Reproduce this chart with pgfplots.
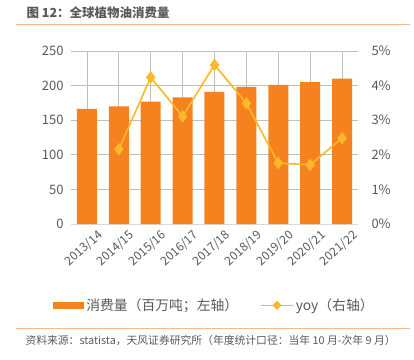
\documentclass[border=0pt]{standalone}
\usepackage{fontspec}
\setmainfont{Noto Sans CJK SC}
\usepackage{pgfplots}
\pgfplotsset{compat=1.18}
\definecolor{barc}{HTML}{F5821F}
\definecolor{linec}{HTML}{FBB829}
\definecolor{txt}{HTML}{595959}
\definecolor{grid}{HTML}{D9D9D9}
\definecolor{rule}{HTML}{F8B98A}
\begin{document}
\begin{tikzpicture}
\path[use as bounding box] (0pt,0pt) rectangle (414pt,359pt);
\node[anchor=west,text=txt,font=\fontsize{12.5}{13}\selectfont\bfseries] at (23pt,346pt) {图 12：全球植物油消费量};
\draw[rule,line width=1pt] (16pt,334pt) -- (410pt,334pt);
\draw[rule,line width=1pt] (16pt,31pt) -- (410pt,31pt);
\node[anchor=west,text=txt,font=\fontsize{10.8}{11}\selectfont] at (22pt,19pt) {资料来源：statista，天风证券研究所（年度统计口径：当年 10 月-次年 9 月）};
\begin{axis}[
  at={(71pt,135pt)}, anchor=south west,
  scale only axis, width=287pt, height=173pt,
  xmin=-0.5, xmax=8.5, ymin=0, ymax=250,
  ytick={0,50,...,250},
  xtick={0,...,8},
  xticklabels={2013/14,2014/15,2015/16,2016/17,2017/18,2018/19,2019/20,2020/21,2021/22},
  x tick label style={rotate=42,anchor=north east,font=\fontsize{12}{13}\selectfont,text=txt,inner sep=1pt},
  y tick label style={font=\fontsize{13}{14}\selectfont,text=txt},
  /pgf/number format/assume math mode=true,
  axis line style={draw=none},
  axis x line*=bottom,
  axis y line*=left,
  x axis line style={draw=grid},
  major tick length=0pt,
  ymajorgrids, grid style={grid,line width=0.8pt},
  xtick style={draw=none}, ytick style={draw=none},
  yticklabel style={xshift=-4pt},
  xticklabel style={yshift=-9pt,xshift=5pt},
]
\addplot[ybar, bar width=20pt, fill=barc, draw=none] coordinates {
(0,166.5) (1,170) (2,177) (3,183) (4,191) (5,198) (6,201) (7,205) (8,210)};
\end{axis}
\begin{axis}[
  at={(71pt,135pt)}, anchor=south west,
  scale only axis, width=287pt, height=173pt,
  xmin=-0.5, xmax=8.5, ymin=0, ymax=5,
  ytick={0,1,...,5},
  yticklabels={0\%,1\%,2\%,3\%,4\%,5\%},
  axis y line*=right, axis x line=none,
  axis line style={draw=none},
  major tick length=0pt, ytick style={draw=none},
  y tick label style={font=\fontsize{13}{14}\selectfont,text=txt,anchor=west,xshift=10pt},
  legend style={draw=none, fill=none, legend columns=2, at={(0.5,-0.47)}, anchor=center,
    font=\fontsize{13.8}{14}\selectfont, text=txt,
    /tikz/every even column/.append style={column sep=20pt}},
  legend cell align=left,
]
\addlegendimage{area legend, fill=barc, draw=none, legend image code/.code={\fill[barc] (0pt,-3.5pt) rectangle (31pt,3.5pt);}}
\addlegendentry{消费量（百万吨；左轴）}
\addplot[linec, line width=1.6pt, mark=diamond*, mark size=5pt, mark options={fill=linec,draw=linec},
  legend image code/.code={\draw[linec,line width=1.6pt] (0pt,0pt) -- (32pt,0pt); \fill[linec] (16pt,0pt) +(0,3.5pt) -- +(3.5pt,0) -- +(0,-3.5pt) -- +(-3.5pt,0) -- cycle;}]
  coordinates {(1,2.16) (2,4.24) (3,3.11) (4,4.60) (5,3.49) (6,1.76) (7,1.71) (8,2.48)};
\addlegendentry{yoy（右轴）}
\end{axis}
\end{tikzpicture}
\end{document}
